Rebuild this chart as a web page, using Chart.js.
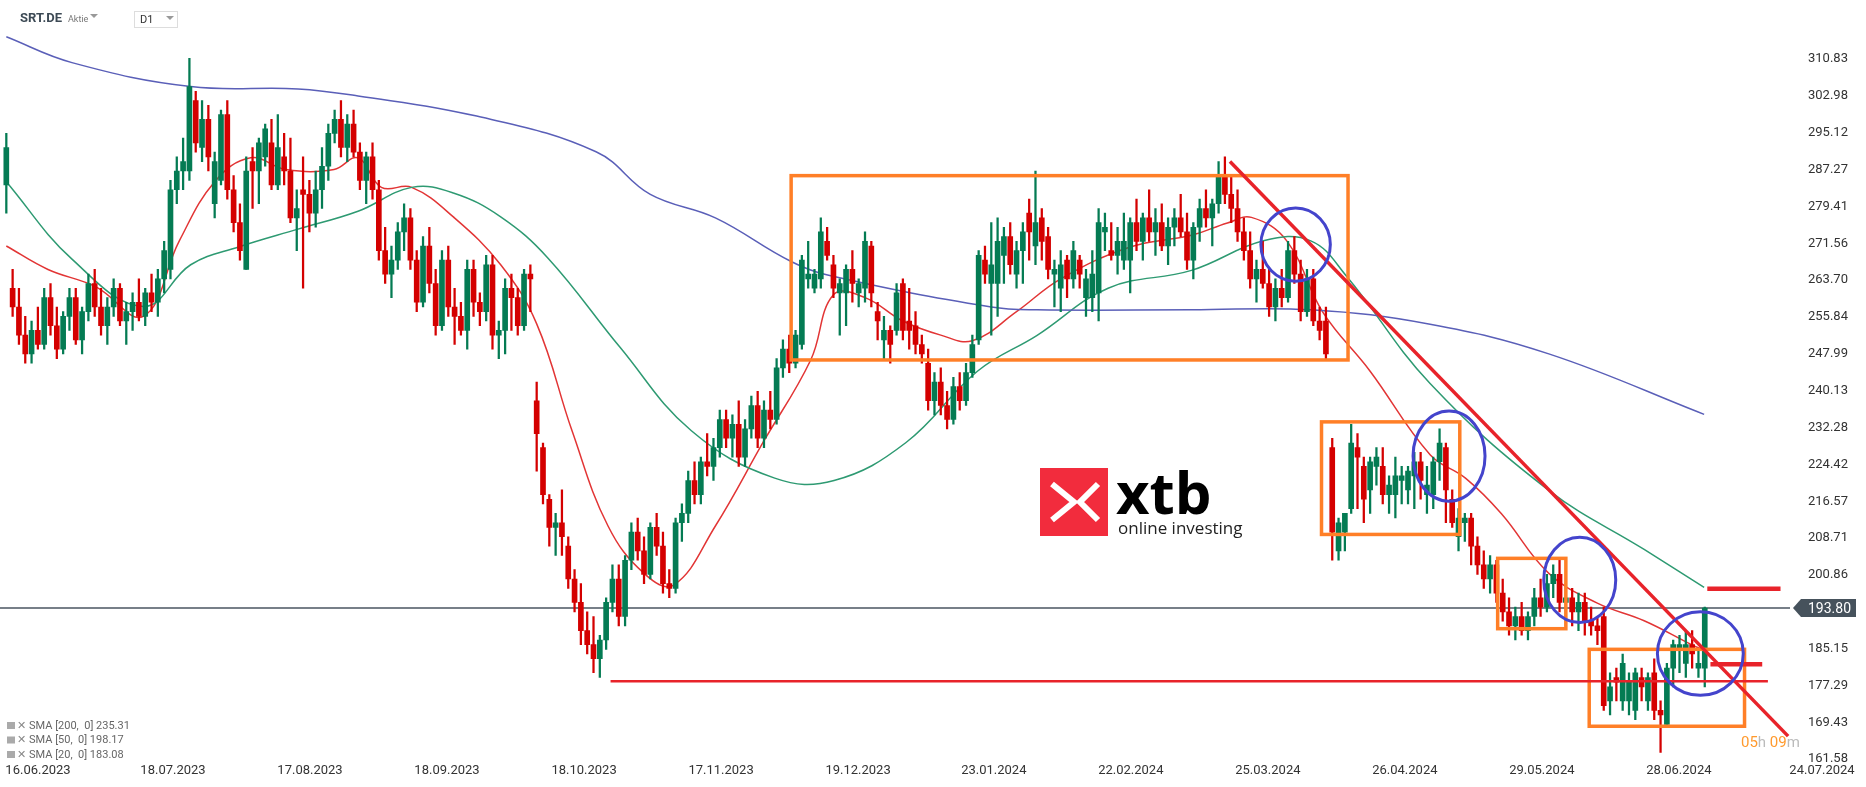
<!DOCTYPE html>
<html>
<head>
<meta charset="utf-8">
<script src="https://cdn.jsdelivr.net/npm/chart.js@4"></script>
<style>
html,body{margin:0;padding:0;background:#fff;}
#wrap{position:relative;width:1866px;height:787px;}
</style>
</head>
<body>
<div id="wrap"><canvas id="grafico" width="1866" height="787"></canvas></div>
<script>
/* ============================= */
/* DATOS */
/* ============================= */

// velas diarias SRT.DE [open, high, low, close]
const ohlc = [
[284,295,278,292],[262,266,256,258],[258,262,250,252],[252,256,246,248],[248,255,246,253],
[253,258,249,250],[250,262,249,260],[260,263,252,254],[254,258,247,249],[249,257,248,256],
[256,262,253,260],[260,262,250,251],[251,258,248,257],[257,265,255,263],[263,266,256,258],
[258,262,252,254],[254,260,250,258],[258,264,256,262],[262,263,254,255],[255,259,250,257],
[257,261,253,259],[259,264,255,256],[256,262,254,261],[261,265,257,259],[259,266,256,264],
[264,272,261,270],[266,285,264,283],[283,290,280,287],[287,294,283,289],[287,311,285,305],
[302,304,291,293],[292,302,289,298],[298,301,287,290],[280,291,277,289],[285,300,284,299],
[299,302,281,283],[283,286,274,276],[276,280,268,270],[266,290,266,287],[289,292,279,287],
[287,294,280,293],[290,297,288,296],[293,298,283,284],[284,299,283,292],[290,295,284,287],
[287,294,276,277],[277,283,270,279],[283,290,262,282],[282,285,274,278],[278,287,275,283],
[283,292,279,288],[288,297,285,295],[295,300,293,298],[298,302,290,292],[292,299,289,297],
[297,300,290,291],[291,293,283,285],[285,291,280,290],[290,293,281,283],[283,285,268,270],
[270,275,263,265],[265,271,260,268],[268,276,266,274],[274,280,270,277],[277,279,266,268],
[268,270,257,259],[259,273,258,271],[271,275,261,263],[263,266,252,254],[254,270,253,268],
[268,271,256,258],[258,262,250,256],[256,259,252,253],[253,268,249,266],[266,268,256,259],
[259,261,254,257],[257,269,255,267],[267,269,249,252],[252,255,247,253],[253,264,248,262],
[262,265,253,260],[260,262,252,254],[254,266,253,265],[265,267,257,264],[238,242,223,231],
[228,229,216,218],[217,218,207,211],[211,214,205,212],[212,219,205,209],[207,209,198,200],
[200,202,193,195],[195,199,186,189],[189,193,184,186],[186,192,180,183],[183,188,179,187],
[187,196,185,195],[195,203,193,200],[200,203,190,192],[192,205,190,204],[204,212,202,210],
[210,213,204,206],[206,209,199,201],[201,212,200,211],[211,214,205,207],[207,210,197,199],
[199,202,196,198],[198,213,197,212],[212,216,208,214],[214,223,212,221],[221,225,216,218],
[218,226,216,225],[225,231,222,224],[224,230,221,228],[228,236,226,234],[234,236,228,230],
[230,235,226,233],[233,238,224,226],[226,234,224,232],[232,239,230,237],[237,240,228,230],
[230,238,228,236],[236,240,232,234],[234,247,233,245],[245,251,243,249],[249,252,244,246],
[246,253,245,252],[250,269,249,268],[264,272,262,265],[262,266,261,265],[264,277,262,274],
[272,275,268,269],[267,269,260,262],[261,264,252,263],[261,267,254,266],[266,270,259,263],
[261,264,258,263],[262,274,259,272],[271,272,258,261],[257,259,251,255],[251,256,247,253],
[253,254,246,250],[253,263,252,261],[263,264,251,253],[255,262,249,253],[254,257,248,250],
[250,252,246,248],[246,249,236,238],[238,244,235,242],[242,245,235,237],[237,240,232,234],
[234,243,233,241],[241,244,236,238],[238,246,237,244],[244,252,243,250],[251,270,250,269],
[268,271,263,265],[263,276,252,267],[263,277,256,272],[269,275,263,273],[273,276,265,267],
[265,272,262,270],[270,276,263,274],[278,281,268,274],[271,287,267,276],[277,279,268,272],
[273,275,264,266],[265,268,258,266],[262,270,257,267],[268,269,260,264],[264,272,262,270],
[268,269,262,265],[260,266,256,264],[260,270,257,265],[261,279,255,276],[274,278,270,275],
[270,276,268,269],[269,275,265,272],[268,278,266,272],[268,277,261,276],[276,281,270,272],
[272,278,268,277],[277,283,272,274],[274,279,269,276],[276,280,270,271],[271,277,267,275],
[275,279,271,277],[277,282,273,274],[274,278,266,268],[268,276,264,275],[275,281,272,279],
[279,283,275,277],[277,281,271,280],[280,289,278,286],[286,290,280,282],[282,286,276,279],
[279,283,272,274],[274,277,268,270],[270,274,262,264],[264,268,259,266],[266,272,262,263],
[263,266,256,258],[258,264,255,262],[262,266,258,260],[260,272,259,270],[270,273,263,265],
[265,268,255,257],[257,266,256,264],[264,266,254,255],[255,258,251,253],[255,258,247,248],
[228,230,204,210],[206,213,204,212],[210,214,206,214],[215,233,214,229],[228,231,215,226],
[224,226,212,217],[219,226,214,225],[224,228,220,226],[224,228,216,218],[218,222,214,220],
[218,226,213,222],[221,224,216,222],[219,224,216,223],[222,227,215,225],[225,227,217,221],
[218,224,214,220],[218,226,215,225],[225,232,221,229],[228,229,212,219],[217,219,211,212],
[209,215,206,213],[212,214,208,213],[213,214,203,207],[207,209,201,203],[203,206,198,200],
[200,205,197,203],[203,204,195,197],[197,200,191,193],[193,196,188,190],[190,194,187,192],
[192,195,188,189],[189,193,187,192],[192,198,190,196],[196,200,192,194],[194,201,193,199],
[199,203,196,201],[201,204,193,195],[195,199,190,196],[196,198,190,193],[193,197,189,195],
[195,197,188,191],[191,194,188,190],[190,192,186,189],[192,194,172,173],[174,180,171,177],
[179,181,174,178],[174,184,172,182],[174,180,171,178],[172,181,170,180],[179,181,174,177],
[174,180,172,179],[180,183,170,172],[172,174,163,171],[169,182,169,181],[181,187,177,186],
[185,188,180,186],[182,189,179,186],[186,189,181,184],[181,185,179,182],[181,194,177,193.8]
];

// medias moviles [indice dia, valor]
const sma200 = [[0,315.6],[10.4,310.1],[29.2,305],[46.2,304.5],[55.7,303],[74.5,298.7],[93.4,291.1],
[102,282],[112.3,277],[124.3,267.7],[131.1,264.5],[156,258],[163.2,257.4],[187.7,257.4],[206.6,257.4],
[225.5,254.3],[244.3,248],[268.9,235.1]];
const sma50 = [[0,284.7],[10.4,268.2],[21.7,258.1],[29.2,267],[36.8,270.8],[46.2,274.6],[55.7,278.4],
[64.2,283.5],[70.8,282.3],[78.3,277.2],[85.8,268.4],[97.2,249.4],[108.5,231.6],[121.7,221.5],
[131.1,221],[142.5,229.1],[153.8,244.3],[163.2,251.9],[174.5,262],[187.7,265.8],[199.1,272.1],
[206.6,272.1],[212.3,264.5],[225.5,241.7],[244.3,218.9],[259.4,206.3],[268.9,198.2]];
const sma20 = [[0,271],[6.6,266],[14.2,262.3],[21.7,256],[27.4,272.1],[33,284.7],[38.7,289.8],
[44.3,287.3],[51.9,287.3],[55.7,289.8],[59.4,283.5],[64.2,283.5],[70.8,277.2],[78.3,267],[84,254.4],
[89.6,231.6],[95.3,211.3],[101,201.2],[105.7,198.7],[112.3,211.3],[119.8,229],[127.4,246.7],
[131,260.6],[136,260],[142,255],[148,252],[153,250.8],[160,257],[167,264],[178,270.8],[187.7,273.3],
[193.4,275.9],[197.2,277.1],[202.8,272.1],[208.5,256.9],[216,244.3],[225.5,226.5],[231.1,221.5],
[236.8,213.9],[244.3,201.2],[251.9,194.9],[259.4,191.1],[266.9,186],[268.9,184.8]];

const preciosEje = [161.58,169.43,177.29,185.15,193.00,200.86,208.71,216.57,224.42,232.28,240.13,
247.99,255.84,263.70,271.56,279.41,287.27,295.12,302.98,310.83];
const fechas = ["16.06.2023","18.07.2023","17.08.2023","18.09.2023","18.10.2023","17.11.2023",
"19.12.2023","23.01.2024","22.02.2024","25.03.2024","26.04.2024","29.05.2024","28.06.2024","24.07.2024"];
const fechasIdx = [4.7,26.4,48.1,69.8,91.5,113.2,134.9,156.4,178.1,199.8,221.5,243.2,264.9,286.4];
const ultimoPrecio = 193.80;

// dibujos del analista: cajas [x1,x2,yAlto,yBajo], circulos [x,y,rx,ry]
const cajas = [[124.3,212.5,286.0,246.7],[208.3,230.2,233.5,209.5],[236.2,247,204.4,189.4],[250.7,275.3,185,168.6]];
const circulos = [[204.2,271.3,5.5,7.8],[228.5,226.2,5.7,9.6],[249.2,199.8,5.7,9.1],[268.3,184.1,6.8,8.9]];
const tendencia = [[193.8,289.0],[282.2,166.5]];
const soporte = [[95.7,178.2],[279,178.2]];
const niveles = [[269.4,281,197.9],[269.9,278.1,181.8]];

/* ============================= */
/* COLORES */
/* ============================= */

const VERDE = "#047b53";
const ROJO = "#d40000";

function colorVela(ctx){
const v = ohlc[ctx.dataIndex];
return v[3] >= v[0] ? VERDE : ROJO;
}

/* ============================= */
/* DIBUJOS EXTRA */
/* ============================= */

const dibujos = {
id:"dibujos",
beforeDatasetsDraw(chart){
const c = chart.ctx, ys = chart.scales.y;
const yy = ys.getPixelForValue(ultimoPrecio);
c.save();
c.strokeStyle = "#4a5560"; c.lineWidth = 1.5;
c.beginPath(); c.moveTo(0,yy); c.lineTo(chart.chartArea.right,yy); c.stroke();
c.restore();
},
afterDatasetsDraw(chart){
const c = chart.ctx, xs = chart.scales.x, ys = chart.scales.y;
const px = v=>xs.getPixelForValue(v), py = v=>ys.getPixelForValue(v);
c.save();

/* cajas */
c.strokeStyle = "#ff7f27"; c.lineWidth = 3.5;
cajas.forEach(b=>{
c.strokeRect(px(b[0]),py(b[2]),px(b[1])-px(b[0]),py(b[3])-py(b[2]));
});

/* lineas rojas */
c.strokeStyle = "#e8232a"; c.lineCap = "butt";
c.lineWidth = 3.5;
c.beginPath(); c.moveTo(px(tendencia[0][0]),py(tendencia[0][1])); c.lineTo(px(tendencia[1][0]),py(tendencia[1][1])); c.stroke();
c.lineWidth = 2.5;
c.beginPath(); c.moveTo(px(soporte[0][0]),py(soporte[0][1])); c.lineTo(px(soporte[1][0]),py(soporte[1][1])); c.stroke();
c.lineWidth = 4.5;
niveles.forEach(n=>{
c.beginPath(); c.moveTo(px(n[0]),py(n[2])); c.lineTo(px(n[1]),py(n[2])); c.stroke();
});

/* circulos */
c.strokeStyle = "#4444cc"; c.lineWidth = 3;
circulos.forEach(o=>{
const cx = px(o[0]), cy = py(o[1]);
c.beginPath();
c.ellipse(cx,cy,px(o[0]+o[2])-cx,cy-py(o[1]+o[3]),0,0,Math.PI*2);
c.stroke();
});

/* etiqueta ultimo precio */
const yy = py(ultimoPrecio), x0 = chart.chartArea.right+3;
c.fillStyle = "#46525c";
c.beginPath();
c.moveTo(x0,yy); c.lineTo(x0+8,yy-9); c.lineTo(1856,yy-9); c.lineTo(1856,yy+9); c.lineTo(x0+8,yy+9); c.closePath();
c.fill();
c.fillStyle = "#fff"; c.font = "14px Roboto"; c.textAlign = "left"; c.textBaseline = "middle";
c.fillText(ultimoPrecio.toFixed(2),1808,yy+1);

/* fechas */
c.fillStyle = "#333"; c.font = "13px Roboto"; c.textAlign = "center";
fechas.forEach((f,i)=>{
let x = px(fechasIdx[i]);
if(i==fechas.length-1) x = 1822;
c.fillText(f,Math.max(x,38),771);
});

/* contador */
c.font = "15px Roboto"; c.textAlign = "left";
let cx = 1741;
[["05","#ff9a2e"],["h ","#bbb"],["09","#ff9a2e"],["m","#bbb"]].forEach(t=>{
c.fillStyle = t[1]; c.fillText(t[0],cx,743); cx += c.measureText(t[0]).width;
});

/* cabecera */
c.fillStyle = "#3d4a55"; c.font = "bold 13px Roboto"; c.fillText("SRT.DE",20,19);
c.fillStyle = "#777"; c.font = "9px Roboto"; c.fillText("Aktie",68,20);
c.fillStyle = "#999";
c.beginPath(); c.moveTo(90,14); c.lineTo(98,14); c.lineTo(94,18); c.fill();
c.strokeStyle = "#ddd"; c.lineWidth = 1; c.strokeRect(134.5,11.5,43,16);
c.fillStyle = "#333"; c.font = "11px Roboto"; c.fillText("D1",140,20);
c.fillStyle = "#999";
c.beginPath(); c.moveTo(166,16); c.lineTo(174,16); c.lineTo(170,20); c.fill();

/* leyenda medias */
c.font = "11px Roboto";
["SMA [200,  0] 235.31","SMA [50,  0] 198.17","SMA [20,  0] 183.08"].forEach((t,i)=>{
const y = 726+i*14.5;
c.fillStyle = "#aaa"; c.fillRect(7,y-4,8,7);
c.fillStyle = "#888"; c.fillText("✕",17,y);
c.fillStyle = "#666"; c.fillText(t,29,y);
});

/* logo xtb */
c.fillStyle = "#f22c3d";
c.fillRect(1040,468,68,68);
c.strokeStyle = "#fff"; c.lineWidth = 6; c.lineJoin = "miter";
c.beginPath(); c.moveTo(1052,484); c.lineTo(1074,502); c.lineTo(1052,520); c.stroke();
c.beginPath(); c.moveTo(1098,484); c.lineTo(1080,502); c.lineTo(1098,520); c.stroke();
c.fillStyle = "#000"; c.font = "bold 58px 'Open Sans'"; c.textBaseline = "alphabetic";
c.fillText("xtb",1116,514);
c.fillStyle = "#222"; c.font = "17px 'Open Sans'";
c.fillText("online investing",1118,534);

c.restore();
}
};

/* ============================= */
/* GRAFICO */
/* ============================= */

const ctx = document.getElementById("grafico");

new Chart(ctx, {
data:{
datasets:[
{
type:"bar", label:"cuerpo", order:1,
data:ohlc.map((v,i)=>({x:i, y:[v[0],v[3]]})),
backgroundColor:colorVela, barThickness:5, grouped:false
},
{
type:"bar", label:"mecha", order:2,
data:ohlc.map((v,i)=>({x:i, y:[v[2],v[1]]})),
backgroundColor:colorVela, barThickness:1.6, grouped:false
},
{
type:"line", label:"SMA 200", order:3,
data:sma200.map(p=>({x:p[0], y:p[1]})),
borderColor:"#5a5fb8", borderWidth:1.5, pointRadius:0, tension:0.4
},
{
type:"line", label:"SMA 50", order:3,
data:sma50.map(p=>({x:p[0], y:p[1]})),
borderColor:"#2e9a72", borderWidth:1.5, pointRadius:0, tension:0.4
},
{
type:"line", label:"SMA 20", order:3,
data:sma20.map(p=>({x:p[0], y:p[1]})),
borderColor:"#e23535", borderWidth:1.5, pointRadius:0, tension:0.4
}
]
},
options:{
responsive:false,
animation:false,
layout:{padding:0},
plugins:{legend:{display:false}, tooltip:{enabled:false}},
scales:{
x:{
type:"linear", min:-1, max:282.5, display:false, offset:false
},
y:{
position:"right", min:161.15, max:317.95,
grid:{display:false, drawTicks:false},
border:{display:false},
afterBuildTicks:a=>{ a.ticks = preciosEje.map(v=>({value:v})); },
afterFit:a=>{ a.width = 76; },
ticks:{
padding:18, color:"#333", font:{family:"Roboto", size:13},
callback:v=>v.toFixed(2)
}
}
}
},
plugins:[dibujos]
});
</script>
</body>
</html>
